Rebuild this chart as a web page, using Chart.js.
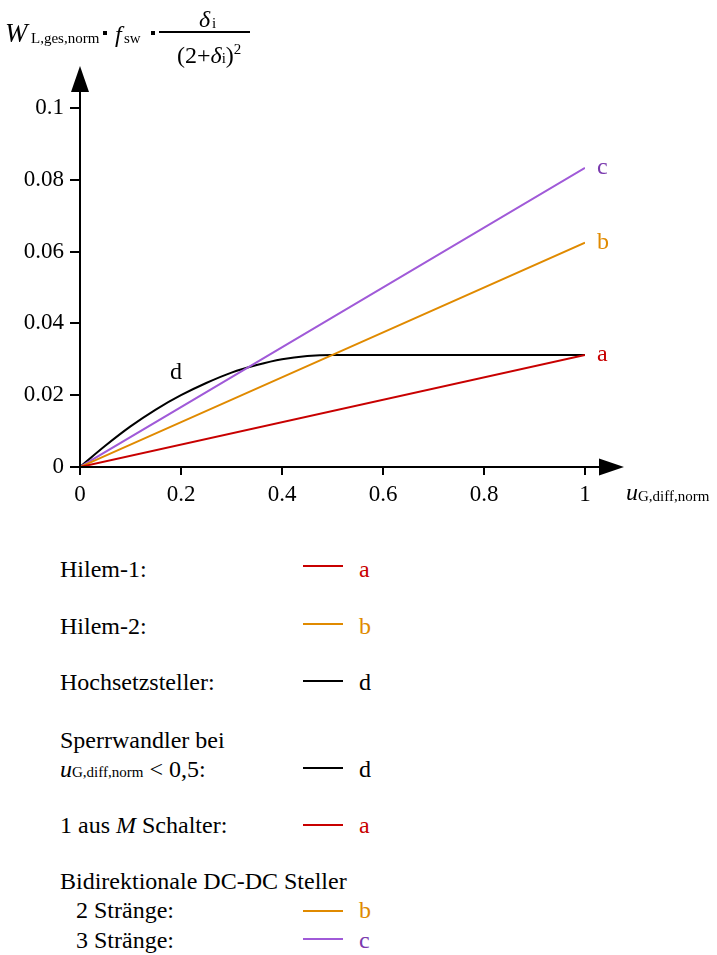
<!DOCTYPE html>
<html lang="de">
<head>
<meta charset="utf-8">
<script src="https://cdn.jsdelivr.net/npm/chart.js@4/dist/chart.umd.min.js"></script>
<style>
  html, body { margin: 0; padding: 0; background: #fff; }
  body { width: 717px; height: 955px; position: relative; overflow: hidden;
         font-family: "Liberation Serif", "DejaVu Serif", serif; color: #000; }
  #chart { position: absolute; left: 0; top: 0; }
  .t { position: absolute; white-space: nowrap; font-size: 24px; line-height: 24px; }
  .s { position: absolute; white-space: nowrap; font-size: 15px; line-height: 15px; }
  .i { font-style: italic; }
  .dot { position: absolute; width: 4px; height: 4px; background: #000; }
  .bar { position: absolute; height: 2px; background: #000; }
  .key { position: absolute; height: 2px; width: 40px; }
</style>
</head>
<body>
<canvas id="chart" width="717" height="520"></canvas>

<!-- y-axis quantity: W_L,ges,norm · f_sw · δi/(2+δi)² -->
<div class="t i" style="left:5px;top:20px;font-size:27px;line-height:27px;">W</div>
<div class="s" style="left:31px;top:31px;">L,ges,norm</div>
<div class="dot" style="left:103px;top:31px;"></div>
<div class="t i" style="left:115px;top:22px;">f</div>
<div class="s" style="left:124px;top:31px;">sw</div>
<div class="dot" style="left:151px;top:31px;"></div>
<div class="t i" style="left:199px;top:7px;">δ</div>
<div class="s" style="left:212px;top:16px;">i</div>
<div class="bar" style="left:159px;top:31px;width:91px;"></div>
<div class="t" style="left:177px;top:37px;">(2+<span class="i">δ</span><span style="font-size:15px;">i</span>)<sup style="font-size:15px;vertical-align:9px;">2</sup></div>

<!-- x-axis quantity -->
<div class="t i" style="left:626px;top:480px;">u</div>
<div class="s" style="left:638px;top:489px;">G,diff,norm</div>

<!-- key -->
<div class="t" style="left:60px;top:557px;">Hilem-1:</div>
<div class="key" style="left:303px;top:565px;background:#c80000;"></div>
<div class="t" style="left:359px;top:557px;color:#c80000;">a</div>

<div class="t" style="left:60px;top:614px;">Hilem-2:</div>
<div class="key" style="left:303px;top:623px;background:#e08a00;"></div>
<div class="t" style="left:359px;top:614px;color:#e08a00;">b</div>

<div class="t" style="left:60px;top:670px;">Hochsetzsteller:</div>
<div class="key" style="left:303px;top:680px;background:#000;"></div>
<div class="t" style="left:359px;top:670px;">d</div>

<div class="t" style="left:60px;top:728px;">Sperrwandler bei</div>
<div class="t" style="left:60px;top:757px;"><span class="i">u</span><span style="font-size:15px;">G,diff,norm</span> &lt; 0,5:</div>
<div class="key" style="left:303px;top:767px;background:#000;"></div>
<div class="t" style="left:359px;top:757px;">d</div>

<div class="t" style="left:60px;top:813px;">1 aus <span class="i">M</span> Schalter:</div>
<div class="key" style="left:303px;top:824px;background:#c80000;"></div>
<div class="t" style="left:359px;top:813px;color:#c80000;">a</div>

<div class="t" style="left:60px;top:869px;">Bidirektionale DC-DC Steller</div>
<div class="t" style="left:76px;top:898px;">2 Stränge:</div>
<div class="key" style="left:303px;top:910px;background:#e08a00;"></div>
<div class="t" style="left:359px;top:898px;color:#e08a00;">b</div>
<div class="t" style="left:76px;top:928px;">3 Stränge:</div>
<div class="key" style="left:303px;top:938px;background:#a05ad8;"></div>
<div class="t" style="left:359px;top:928px;color:#7a3aae;">c</div>

<script>
// Normalised input voltage difference (x) and the resulting normalised quantity (y)
const xTicks = [0, 0.2, 0.4, 0.6, 0.8, 1];
const xTickLabels = ['0', '0.2', '0.4', '0.6', '0.8', '1'];
const yTicks = [0, 0.02, 0.04, 0.06, 0.08, 0.1];
const yTickLabels = ['0', '0.02', '0.04', '0.06', '0.08', '0.1'];

// a: Hilem-1 / 1 aus M Schalter
const xA = [0, 1];
const yA = [0, 0.0312];
// b: Hilem-2 / 2 Stränge
const xB = [0, 1];
const yB = [0, 0.0625];
// c: 3 Stränge
const xC = [0, 1];
const yC = [0, 0.0833];
// d: Hochsetzsteller / Sperrwandler
const xD = [0, 0.05, 0.1, 0.15, 0.2, 0.25, 0.3, 0.35, 0.4, 0.45, 0.5, 0.6, 0.8, 1];
const yD = [0, 0.0059, 0.0113, 0.016, 0.02, 0.0234, 0.0263, 0.0284, 0.03, 0.0309, 0.0312, 0.0312, 0.0312, 0.0312];

const seriesNames = ['a', 'b', 'c', 'd'];
const lineColors = ['#c80000', '#e08a00', '#a05ad8', '#000000'];
const labelColors = ['#c80000', '#e08a00', '#7a3aae', '#000000'];

const pts = (xs, ys) => xs.map((x, i) => ({ x, y: ys[i] }));
const tickFont = { family: '"Liberation Serif", serif', size: 23 };

const mk = (i, xs, ys) => ({
  label: seriesNames[i],
  data: pts(xs, ys),
  borderColor: lineColors[i],
  borderWidth: 2,
  pointRadius: 0,
  fill: false,
  cubicInterpolationMode: 'monotone'
});

// Axis lines with arrow heads, and the letters naming each curve
const decorations = {
  id: 'decorations',
  afterDatasetsDraw(chart) {
    const { ctx, scales: { x, y } } = chart;
    const x0 = x.getPixelForValue(0), y0 = y.getPixelForValue(0);
    const yTop = y.getPixelForValue(0.1) - 16;
    const xEnd = x.getPixelForValue(1) + 14;
    ctx.save();
    ctx.strokeStyle = '#000';
    ctx.fillStyle = '#000';
    ctx.lineWidth = 2;
    ctx.beginPath();
    ctx.moveTo(x0, y0 + 1); ctx.lineTo(x0, yTop);
    ctx.moveTo(x0 - 1, y0); ctx.lineTo(xEnd, y0);
    ctx.stroke();
    ctx.beginPath();
    ctx.moveTo(x0 - 9, yTop); ctx.lineTo(x0 + 9, yTop); ctx.lineTo(x0, yTop - 26); ctx.closePath();
    ctx.fill();
    ctx.beginPath();
    ctx.moveTo(xEnd, y0 - 8.5); ctx.lineTo(xEnd, y0 + 8.5); ctx.lineTo(xEnd + 25, y0); ctx.closePath();
    ctx.fill();

    ctx.font = '24px "Liberation Serif", serif';
    ctx.textBaseline = 'middle';
    ctx.textAlign = 'left';
    [[xA, yA, 0], [xB, yB, 1], [xC, yC, 2]].forEach(([xs, ys, i]) => {
      const n = xs.length - 1;
      ctx.fillStyle = labelColors[i];
      ctx.fillText(seriesNames[i], x.getPixelForValue(xs[n]) + 12, y.getPixelForValue(ys[n]));
    });
    ctx.fillStyle = labelColors[3];
    ctx.textAlign = 'center';
    ctx.fillText(seriesNames[3], x.getPixelForValue(xD[4]) - 5, y.getPixelForValue(yD[4]) - 22);
    ctx.restore();
  }
};

new Chart(document.getElementById('chart'), {
  type: 'line',
  data: {
    datasets: [mk(0, xA, yA), mk(1, xB, yB), mk(2, xC, yC), mk(3, xD, yD)]
  },
  options: {
    responsive: false,
    animation: false,
    layout: { padding: { top: 108, right: 132, bottom: 0, left: 0 } },
    plugins: { legend: { display: false }, tooltip: { enabled: false } },
    scales: {
      x: {
        type: 'linear', min: 0, max: 1,
        border: { display: false },
        grid: { drawOnChartArea: false, drawTicks: true, tickLength: 8, color: '#000', lineWidth: 2 },
        ticks: { font: tickFont, color: '#000', padding: 6, maxRotation: 0,
                 callback: (v, i) => xTickLabels[i] },
        afterBuildTicks: s => { s.ticks = xTicks.map(v => ({ value: v })); },
        afterFit: s => { s.height = 53; }
      },
      y: {
        type: 'linear', min: 0, max: 0.1,
        border: { display: false },
        grid: { drawOnChartArea: false, drawTicks: true, tickLength: 10, color: '#000', lineWidth: 2 },
        ticks: { font: tickFont, color: '#000', padding: 6,
                 callback: (v, i) => yTickLabels[i] },
        afterBuildTicks: s => { s.ticks = yTicks.map(v => ({ value: v })); },
        afterFit: s => { s.width = 80; }
      }
    }
  },
  plugins: [decorations]
});
</script>
</body>
</html>
